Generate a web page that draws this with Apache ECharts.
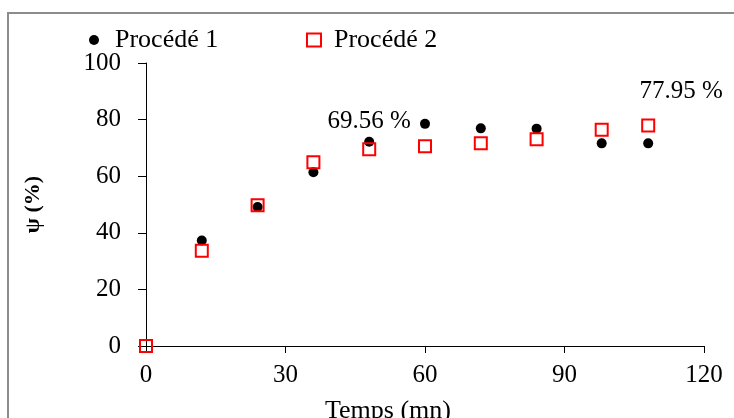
<!DOCTYPE html>
<html>
<head>
<meta charset="utf-8">
<script src="https://cdn.jsdelivr.net/npm/echarts@6/dist/echarts.min.js"></script>
<style>
  html, body { margin: 0; padding: 0; background: #fff; }
  #chart { width: 734px; height: 418px; }
</style>
</head>
<body>
<div id="chart"></div>
<script>
// Efficiency ψ (%) over time for the two processes
const procede1Time = [12, 24, 36, 48, 60, 72, 84, 98, 108];
const procede1Psi  = [37.3, 49.1, 61.4, 72.2, 78.5, 76.9, 76.8, 71.6, 71.6];
const procede2Time = [0, 12, 24, 36, 48, 60, 72, 84, 98, 108];
const procede2Psi  = [0, 33.7, 49.7, 64.9, 69.56, 70.6, 71.6, 73.1, 76.4, 77.95];
const xTicks = [0, 30, 60, 90, 120];
const yTicks = [0, 20, 40, 60, 80, 100];
// points of Procédé 2 whose value is printed next to the marker
const labelledTimes = [48, 108];

const serif = 'Liberation Serif, Times New Roman, serif';

const data1 = procede1Time.map((t, i) => [t, procede1Psi[i]]);
const data2 = procede2Time.map((t, i) => {
  const item = { value: [t, procede2Psi[i]] };
  if (labelledTimes.includes(t)) {
    const last = t === labelledTimes[labelledTimes.length - 1];
    item.label = {
      show: true,
      position: 'top',
      distance: 8,
      offset: last ? [33, -6] : [0, 0],
      formatter: p => p.value[1].toFixed(2) + ' %',
      color: '#000',
      opacity: 1,
      fontFamily: serif,
      fontSize: 25
    };
  }
  return item;
});

const chart = echarts.init(document.getElementById('chart'));
chart.setOption({
  animation: false,
  backgroundColor: '#fff',
  graphic: [{
    type: 'rect',
    shape: { x: 8, y: 13, width: 800, height: 500 },
    style: { fill: 'none', stroke: '#8c8c8c', lineWidth: 2 },
    silent: true,
    z: -1
  }],
  legend: [{
    data: [{ name: 'Procédé 1', icon: 'circle' }],
    left: 84, top: 22,
    itemWidth: 10, itemHeight: 10,
    textStyle: { fontFamily: serif, fontSize: 26, color: '#000', padding: [0, 0, 0, 11] }
  }, {
    data: [{ name: 'Procédé 2', icon: 'rect' }],
    left: 301, top: 22,
    itemWidth: 14, itemHeight: 13,
    textStyle: { fontFamily: serif, fontSize: 26, color: '#000', padding: [0, 0, 0, 8] }
  }],
  grid: { left: 146, right: 30, top: 63, bottom: 72, outerBoundsMode: 'none' },
  xAxis: {
    type: 'value',
    min: xTicks[0], max: xTicks[xTicks.length - 1], interval: 30,
    name: 'Temps (mn)',
    nameLocation: 'middle',
    nameGap: 52,
    nameTextStyle: { fontFamily: serif, fontSize: 26, color: '#000', padding: [0, 74, 0, 0] },
    axisLine: { lineStyle: { color: '#000', width: 1 } },
    axisTick: { show: true, inside: false, length: 7, lineStyle: { color: '#000' } },
    axisLabel: { fontFamily: serif, fontSize: 25, color: '#000', margin: 17 },
    splitLine: { show: false }
  },
  yAxis: {
    type: 'value',
    min: yTicks[0], max: yTicks[yTicks.length - 1], interval: 20,
    name: 'ψ (%)',
    nameLocation: 'middle',
    nameGap: 102,
    nameRotate: 90,
    nameTextStyle: { fontFamily: serif, fontSize: 22, fontWeight: 'bold', color: '#000' },
    axisLine: { show: true, lineStyle: { color: '#000', width: 1 } },
    axisTick: { show: true, inside: false, length: 8, lineStyle: { color: '#000' } },
    axisLabel: { fontFamily: serif, fontSize: 25, color: '#000', margin: 25 },
    splitLine: { show: false }
  },
  series: [{
    name: 'Procédé 1',
    type: 'scatter',
    symbol: 'circle',
    symbolSize: 10,
    clip: false,
    itemStyle: { color: '#000', opacity: 1 },
    data: data1,
    z: 2
  }, {
    name: 'Procédé 2',
    type: 'scatter',
    symbol: 'rect',
    symbolSize: 12,
    clip: false,
    itemStyle: { color: 'rgba(255,255,255,0)', borderColor: '#ff0000', borderWidth: 2, opacity: 1 },
    data: data2,
    z: 3
  }]
});
</script>
</body>
</html>
